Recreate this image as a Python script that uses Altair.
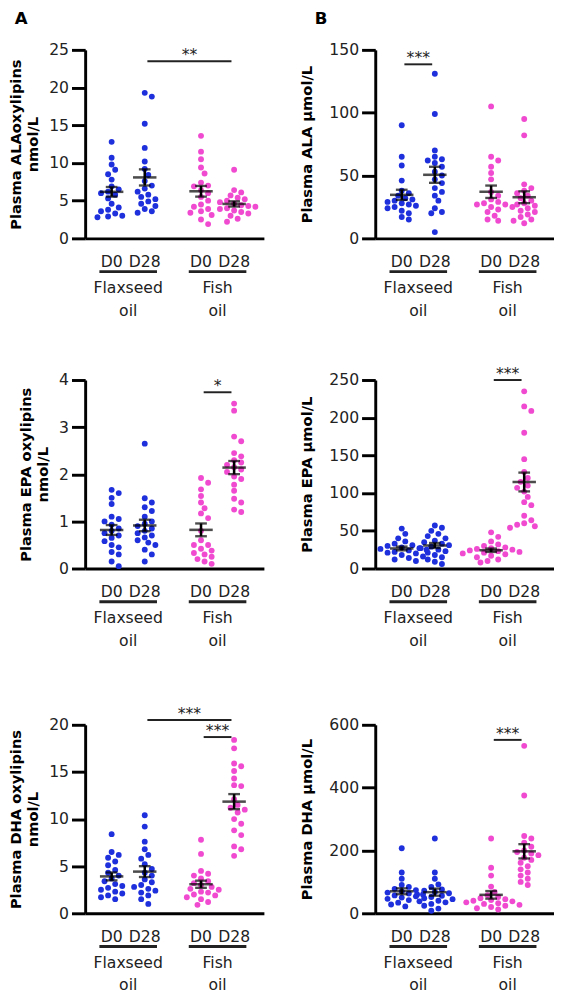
import altair as alt
import pandas as pd

# ---------------- data ----------------
groups = ["Flaxseed oil", "Fish oil"]
days = ["D0", "D28"]

ala_oxy_flax_d0 = [12.8, 10.7, 9.8, 9.1, 8.5, 7.8, 6.9, 6.5, 6.0, 6.2, 5.8, 5.3, 4.6, 4.1, 3.8, 3.6, 3.3, 3.0, 2.9, 2.8]
ala_oxy_flax_d28 = [19.3, 18.8, 15.2, 12.0, 10.2, 9.2, 8.4, 7.6, 7.0, 6.6, 6.2, 5.8, 5.5, 5.2, 4.9, 4.6, 4.3, 3.9, 3.6, 3.4]
ala_oxy_fish_d0 = [13.6, 11.5, 10.5, 9.4, 8.6, 7.4, 7.0, 6.9, 6.4, 6.0, 5.5, 5.0, 4.5, 4.2, 3.9, 3.6, 3.4, 3.1, 2.5, 1.9]
ala_oxy_fish_d28 = [9.1, 6.4, 6.1, 5.7, 5.4, 5.2, 5.0, 4.8, 4.6, 4.4, 4.3, 4.2, 4.0, 3.9, 3.7, 3.5, 3.3, 3.0, 2.6, 2.2]

ala_flax_d0 = [90, 65, 58, 46, 38, 36, 34, 32, 31, 30, 29, 28, 27, 26, 25, 24, 22, 20, 17, 15]
ala_flax_d28 = [131, 99, 70, 65, 63, 62, 60, 57, 53, 50, 47, 44, 40, 37, 34, 30, 24, 21, 20, 5]
ala_fish_d0 = [105, 65, 62, 57, 52, 47, 37, 34, 31, 29, 27, 25, 28, 27, 25, 23, 21, 18, 15, 14]
ala_fish_d28 = [95, 82, 43, 40, 38, 36, 34, 32, 30, 28, 27, 26, 24, 22, 21, 19, 17, 15, 14, 12]

epa_oxy_flax_d0 = [1.67, 1.6, 1.5, 1.37, 1.1, 1.05, 1.0, 0.93, 0.85, 0.8, 0.75, 0.7, 0.65, 0.58, 0.5, 0.45, 0.35, 0.3, 0.15, 0.05]
epa_oxy_flax_d28 = [2.65, 1.49, 1.4, 1.3, 1.22, 1.1, 1.0, 0.95, 0.9, 0.85, 0.8, 0.75, 0.7, 0.66, 0.6, 0.55, 0.5, 0.4, 0.3, 0.15]
epa_oxy_fish_d0 = [1.92, 1.82, 1.68, 1.54, 1.4, 1.28, 1.17, 1.07, 0.8, 0.6, 0.5, 0.5, 0.42, 0.38, 0.33, 0.3, 0.25, 0.2, 0.15, 0.1]
epa_oxy_fish_d28 = [3.5, 3.35, 2.8, 2.7, 2.45, 2.38, 2.3, 2.25, 2.2, 2.15, 2.1, 2.05, 1.95, 1.9, 1.78, 1.65, 1.48, 1.4, 1.25, 1.2]

epa_flax_d0 = [53, 46, 40, 36, 33, 31, 30, 28, 27, 26, 25, 24, 22, 21, 20, 18, 16, 14, 12, 10]
epa_flax_d28 = [57, 54, 50, 46, 43, 40, 37, 35, 33, 31, 29, 27, 25, 23, 21, 18, 15, 12, 9, 6]
epa_fish_d0 = [48, 42, 36, 32, 30, 28, 27, 26, 25, 24, 23, 22, 21, 20, 19, 17, 15, 12, 10, 8]
epa_fish_d28 = [235, 215, 209, 180, 145, 128, 120, 115, 110, 107, 102, 95, 88, 84, 70, 64, 60, 58, 56, 54]

dha_oxy_flax_d0 = [8.4, 6.5, 6.2, 5.9, 5.5, 5.1, 4.6, 4.3, 4.0, 3.7, 3.4, 3.1, 2.9, 2.7, 2.5, 2.3, 2.1, 1.9, 1.7, 1.5]
dha_oxy_flax_d28 = [10.4, 9.2, 7.6, 6.8, 6.2, 5.8, 5.2, 4.7, 4.3, 4.0, 3.6, 3.3, 3.0, 2.8, 2.6, 2.4, 2.2, 1.9, 1.5, 1.0]
dha_oxy_fish_d0 = [7.8, 6.3, 4.5, 4.2, 4.0, 3.7, 3.4, 3.2, 3.0, 2.8, 2.6, 2.5, 2.3, 2.2, 2.0, 1.9, 1.7, 1.5, 1.2, 0.9]
dha_oxy_fish_d28 = [18.4, 17.5, 15.9, 15.6, 15.1, 14.3, 13.6, 13.5, 12.1, 11.5, 11.2, 11.0, 10.7, 10.0, 9.5, 8.8, 8.3, 7.1, 6.8, 6.1]

dha_flax_d0 = [207, 130, 110, 90, 84, 78, 74, 70, 66, 63, 60, 57, 54, 50, 46, 42, 38, 34, 28, 22]
dha_flax_d28 = [238, 130, 110, 92, 84, 76, 72, 68, 64, 60, 56, 52, 48, 45, 40, 35, 30, 24, 15, 8]
dha_fish_d0 = [238, 145, 120, 85, 68, 58, 52, 48, 45, 42, 40, 38, 35, 32, 30, 27, 24, 20, 16, 12]
dha_fish_d28 = [533, 375, 246, 238, 225, 212, 200, 195, 190, 185, 177, 170, 161, 150, 140, 130, 120, 110, 100, 90]

# significance annotations: (from group index, to group index, y value, label)
sig_A1 = [(1, 3, 23.5, "**")]
sig_B1 = [(0, 1, 138.5, "***")]
sig_A2 = [(2, 3, 3.74, "*")]
sig_B2 = [(2, 3, 250, "***")]
sig_A3 = [(1, 3, 20.5, "***"), (2, 3, 18.7, "***")]
sig_B3 = [(2, 3, 552, "***")]

# ---------------- layout / style ----------------
W, H = 183, 193
XMAX = 5.4
POS = [0.8, 1.8, 3.5, 4.5]
PXU = W / XMAX
BLUE = "#1e2fdc"
PINK = "#f04bd0"
COLORS = [BLUE, BLUE, PINK, PINK]
FONT = "DejaVu Sans"
INK = "#222222"
DOT = 6.6


def swarm_offsets(values, ymax):
    ypx = [v / ymax * H for v in values]
    order = sorted(range(len(values)), key=lambda i: -values[i])
    steps = [0.0]
    for m in range(1, 14):
        steps += [m * DOT * 0.55, -m * DOT * 0.55]
    placed, offs = [], [0.0] * len(values)
    for i in order:
        for s in steps:
            if all((s - px) ** 2 + (ypx[i] - py) ** 2 >= (DOT * 0.95) ** 2 for px, py in placed):
                offs[i] = s
                placed.append((s, ypx[i]))
                break
    return offs


def panel(series, ymax, ticks, title, sigs, tpad, letter=None, lx=0):
    xsc = alt.Scale(domain=[0, XMAX], nice=False, zero=False)
    ysc = alt.Scale(domain=[0, ymax], nice=False, zero=True)
    xax = alt.Axis(labels=False, ticks=False, title=None, grid=False)
    yax = alt.Axis(values=ticks, title=title, grid=False, titlePadding=tpad)
    X = alt.X("x:Q", scale=xsc, axis=xax)
    Y = alt.Y("y:Q", scale=ysc, axis=yax)

    rows, stats = [], []
    for gi, vals in enumerate(series):
        offs = swarm_offsets(vals, ymax)
        for v, o in zip(vals, offs):
            rows.append({"x": POS[gi] + o / PXU, "y": v, "c": COLORS[gi]})
        s = pd.Series(vals, dtype=float)
        m, se = s.mean(), s.std(ddof=1) / len(s) ** 0.5
        stats.append({"x": POS[gi], "y": m, "lo": m - se, "hi": m + se})
    pts_df = pd.DataFrame(rows)
    st = pd.DataFrame(stats)

    pts = alt.Chart(pts_df).mark_circle(size=36, opacity=1).encode(
        x=X, y=Y, color=alt.Color("c:N", scale=None))
    mean = alt.Chart(st).mark_tick(orient="horizontal", size=24, thickness=2.6, color="black").encode(x=X, y=Y)
    sem = alt.Chart(st).mark_rule(strokeWidth=2.6, color="black").encode(
        x=X, y=alt.Y("lo:Q", scale=ysc, axis=yax), y2="hi:Q")
    cap_lo = alt.Chart(st).mark_tick(orient="horizontal", size=12, thickness=2.4, color="black").encode(
        x=X, y=alt.Y("lo:Q", scale=ysc, axis=yax))
    cap_hi = alt.Chart(st).mark_tick(orient="horizontal", size=12, thickness=2.4, color="black").encode(
        x=X, y=alt.Y("hi:Q", scale=ysc, axis=yax))

    sig_df = pd.DataFrame([{"x": POS[i] + 0.08, "x2": POS[j] - 0.08, "xm": (POS[i] + POS[j]) / 2,
                            "y": yv, "t": lab} for i, j, yv, lab in sigs])
    sig_rule = alt.Chart(sig_df).mark_rule(strokeWidth=2, color=INK).encode(x=X, x2="x2:Q", y=Y)
    sig_txt = alt.Chart(sig_df).mark_text(font=FONT, fontSize=16, color=INK, baseline="alphabetic", dy=-1).encode(
        x=alt.X("xm:Q", scale=xsc, axis=xax), y=Y, text="t:N")

    day_df = pd.DataFrame([{"x": POS[k], "t": days[k % 2]} for k in range(4)])
    day_txt = alt.Chart(day_df).mark_text(font=FONT, fontSize=16, color=INK, baseline="middle").encode(
        x=X, y=alt.value(H + 24), text="t:N")
    grp_df = pd.DataFrame([{"x": (POS[2 * g] + POS[2 * g + 1]) / 2 - 0.87,
                            "x2": (POS[2 * g] + POS[2 * g + 1]) / 2 + 0.87,
                            "xm": (POS[2 * g] + POS[2 * g + 1]) / 2,
                            "l1": groups[g].split(" ")[0], "l2": groups[g].split(" ")[1]} for g in range(2)])
    under = alt.Chart(grp_df).mark_rule(strokeWidth=3, color=INK).encode(x=X, x2="x2:Q", y=alt.value(H + 34))
    g1 = alt.Chart(grp_df).mark_text(font=FONT, fontSize=16, color=INK, baseline="middle").encode(
        x=alt.X("xm:Q", scale=xsc, axis=xax), y=alt.value(H + 51), text="l1:N")
    g2 = alt.Chart(grp_df).mark_text(font=FONT, fontSize=16, color=INK, baseline="middle").encode(
        x=alt.X("xm:Q", scale=xsc, axis=xax), y=alt.value(H + 74), text="l2:N")

    layers = [pts, sem, cap_lo, cap_hi, mean, sig_rule, sig_txt, day_txt, under, g1, g2]
    if letter:
        lt = alt.Chart(pd.DataFrame({"t": [letter]})).mark_text(
            font=FONT, fontSize=17, fontWeight="bold", color="black", align="left", baseline="top").encode(
            x=alt.value(lx), y=alt.value(-40), text="t:N")
        layers.append(lt)
    return alt.layer(*layers).properties(width=W, height=H)


A1 = panel([ala_oxy_flax_d0, ala_oxy_flax_d28, ala_oxy_fish_d0, ala_oxy_fish_d28], 25, [0, 5, 10, 15, 20, 25],
           ["Plasma ALAoxylipins", "nmol/L"], sig_A1, 8, "A", -72)
B1 = panel([ala_flax_d0, ala_flax_d28, ala_fish_d0, ala_fish_d28], 150, [0, 50, 100, 150],
           "Plasma ALA \u03bcmol/L", sig_B1, 15, "B", -62)
A2 = panel([epa_oxy_flax_d0, epa_oxy_flax_d28, epa_oxy_fish_d0, epa_oxy_fish_d28], 4, [0, 1, 2, 3, 4],
           ["Plasma EPA oxylipins", "nmol/L"], sig_A2, 8)
B2 = panel([epa_flax_d0, epa_flax_d28, epa_fish_d0, epa_fish_d28], 250, [0, 50, 100, 150, 200, 250],
           "Plasma EPA \u03bcmol/L", sig_B2, 15)
A3 = panel([dha_oxy_flax_d0, dha_oxy_flax_d28, dha_oxy_fish_d0, dha_oxy_fish_d28], 20, [0, 5, 10, 15, 20],
           ["Plasma DHA oxylipins", "nmol/L"], sig_A3, 8)
B3 = panel([dha_flax_d0, dha_flax_d28, dha_fish_d0, dha_fish_d28], 600, [0, 200, 400, 600],
           "Plasma DHA \u03bcmol/L", sig_B3, 15)

COLSP = 36
row1 = alt.hconcat(A1, B1, spacing=COLSP)
row2 = alt.hconcat(A2, B2, spacing=COLSP)
row3 = alt.hconcat(A3, B3, spacing=COLSP)

chart = alt.vconcat(row1, alt.vconcat(row2, row3, spacing=59), spacing=49).properties(
    padding={"left": 0, "top": -10, "right": 0, "bottom": 0}
).configure_view(strokeWidth=0).configure_axis(
    domainColor="black", domainWidth=3, tickColor="black", tickWidth=3, tickSize=14,
    labelFont=FONT, labelFontSize=16, labelColor=INK, labelPadding=3,
    titleFont=FONT, titleFontSize=15, titleFontWeight="bold", titleColor="black",
    titleLineHeight=18, grid=False
)

chart.save("out.html", embed_options={"renderer": "svg", "actions": False})
